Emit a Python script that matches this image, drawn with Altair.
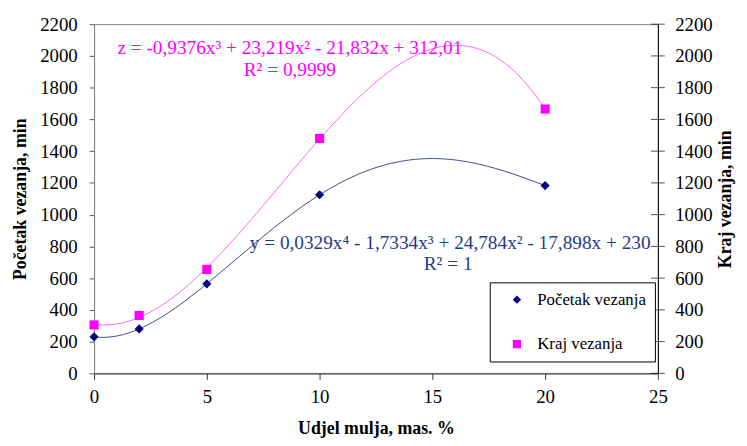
import altair as alt
import pandas as pd

# ---- data ----
x_vals = [0, 2, 5, 10, 20]
pocetak = [230, 280, 564, 1125, 1183]
kraj = [305, 365, 655, 1480, 1665]
series = ["Početak vezanja", "Kraj vezanja"]
point_colors = ["#000080", "#FF00FF"]
point_shapes = ["diamond", "square"]
line_colors = ["#3b4d8c", "#FF66FF"]
y_ticks = [0, 200, 400, 600, 800, 1000, 1200, 1400, 1600, 1800, 2000, 2200]
x_ticks = [0, 5, 10, 15, 20, 25]
eq_texts = ["z = -0,9376x³ + 23,219x² - 21,832x + 312,01", "R² = 0,9999",
            "y = 0,0329x⁴ - 1,7334x³ + 24,784x² - 17,898x + 230", "R² = 1"]
eq_x = [8.68, 8.68, 15.79, 15.7]
eq_y = [2050, 1913, 823, 686]
eq_colors = ["#FF00FF", "#FF00FF", "#1f3c85", "#1f3c85"]

FONT = "Liberation Serif"
W, H = 570, 353

df = pd.DataFrame({
    "x": x_vals * 2,
    "y": pocetak + kraj,
    "s": [series[0]] * len(x_vals) + [series[1]] * len(x_vals),
})
ticks_df = pd.DataFrame({"t": y_ticks})
eq_df = pd.DataFrame({"text": eq_texts, "x": eq_x, "y": eq_y, "c": eq_colors})

xscale = alt.Scale(domain=[0, 25], nice=False)
yscale = alt.Scale(domain=[0, 2200], nice=False)

x_axis = alt.Axis(values=x_ticks, title="Udjel mulja, mas. %", grid=False, format="d",
                  labelFlush=False, labelOverlap=False,
                  labelFont=FONT, labelFontSize=19, labelColor="black",
                  titleFont=FONT, titleFontSize=18, titleFontWeight="bold", titleColor="black",
                  domainColor="#333333", tickColor="#333333", tickSize=6, labelPadding=8,
                  titleX=W / 2, titleY=56, titleBaseline="middle", titleAlign="center")

left_axis = alt.Axis(values=y_ticks, orient="left", title="Početak vezanja, min", grid=False,
                     format="d", labelFlush=False, labelOverlap=False,
                     labelFont=FONT, labelFontSize=19, labelColor="black",
                     titleFont=FONT, titleFontSize=18, titleFontWeight="bold", titleColor="black",
                     domainColor="#808080", tickColor="#555555", tickSize=5, labelPadding=12,
                     titleAngle=270, titleX=-74, titleY=H / 2, titleAlign="center",
                     titleBaseline="middle")

right_axis = alt.Axis(values=y_ticks, orient="right", title="Kraj vezanja, min", grid=False,
                      format="d", labelFlush=False, labelOverlap=False,
                      labelFont=FONT, labelFontSize=19, labelColor="black",
                      titleFont=FONT, titleFontSize=18, titleFontWeight="bold", titleColor="black",
                      domainColor="black", ticks=False, labelPadding=17,
                      titleAngle=270, titleX=68, titleY=H / 2, titleAlign="center",
                      titleBaseline="middle")

base = alt.Chart(df)
X = alt.X("x:Q", scale=xscale, axis=x_axis)

blue_line = base.transform_filter(alt.datum.s == series[0]).transform_regression(
    "x", "y", method="poly", order=4, extent=[0, 20]
).mark_line(color=line_colors[0], strokeWidth=1).encode(
    x=X,
    y=alt.Y("y:Q", scale=yscale, axis=left_axis),
)

pink_line = base.transform_filter(alt.datum.s == series[1]).transform_regression(
    "x", "y", method="poly", order=3, extent=[0, 20]
).mark_line(color=line_colors[1], strokeWidth=1).encode(
    x=X,
    y=alt.Y("y:Q", scale=yscale, axis=right_axis),
)

legend = alt.Legend(orient="none", legendX=400, legendY=261, title=None,
                    strokeColor="black", fillColor="white", padding=9,
                    symbolOffset=10, labelOffset=12, rowPadding=27,
                    labelFont=FONT, labelFontSize=17, labelColor="black",
                    symbolSize=70, symbolStrokeWidth=0, cornerRadius=0)

points = base.mark_point(filled=True, size=85, opacity=1).encode(
    x=X,
    y=alt.Y("y:Q", scale=yscale, axis=None),
    color=alt.Color("s:N", scale=alt.Scale(domain=series, range=point_colors), legend=legend),
    shape=alt.Shape("s:N", scale=alt.Scale(domain=series, range=point_shapes), legend=legend),
)

right_ticks = alt.Chart(ticks_df).mark_tick(orient="horizontal", size=14, thickness=1,
                                            color="black").encode(
    x=alt.datum(25, scale=xscale, axis=x_axis),
    y=alt.Y("t:Q", scale=yscale, axis=None),
)

eqs = alt.Chart(eq_df).mark_text(font=FONT, fontSize=19.5, align="center",
                                 baseline="middle").encode(
    x=X,
    y=alt.Y("y:Q", scale=yscale, axis=None),
    text="text:N",
    color=alt.Color("c:N", scale=None),
)

chart = alt.layer(blue_line, pink_line, right_ticks, points, eqs).resolve_axis(
    y="independent"
).properties(
    width=W, height=H,
    autosize=alt.AutoSizeParams(type="none"),
    padding={"left": 87, "top": 14, "right": 82, "bottom": 63},
    background="white",
).configure(font=FONT).configure_view(stroke="#808080", strokeWidth=1).configure_axis(
    labelFont=FONT, titleFont=FONT
).configure_legend(labelFont=FONT)

chart.save("out.html", embed_options={"renderer": "svg", "actions": False})
